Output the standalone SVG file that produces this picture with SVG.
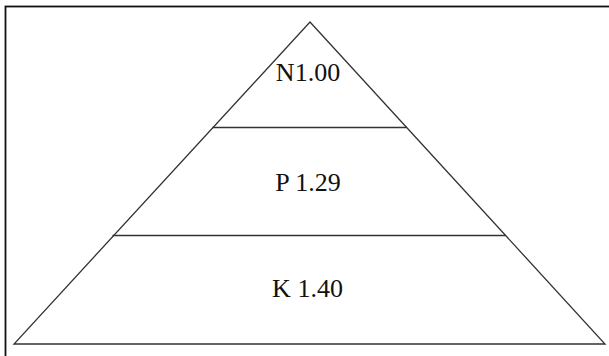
<svg xmlns="http://www.w3.org/2000/svg" width="609" height="356" viewBox="0 0 609 356">
<style>
.ln{stroke:#333;stroke-width:1.3;fill:none}
.lbl{font-family:"Liberation Serif","Times New Roman",serif;font-size:26px;fill:#111;text-anchor:middle}
</style>
<rect x="0" y="0" width="609" height="356" fill="#fff"/>
<rect x="5.5" y="6.5" width="612" height="360" fill="none" stroke="#111" stroke-width="1.8"/>
<g id="connectors">
<polygon class="ln" points="310,22 605,344 14,344"/>
<line class="ln" x1="212.5" y1="127.5" x2="406.5" y2="127.5"/>
<line class="ln" x1="112.5" y1="235.5" x2="505.5" y2="235.5"/>
</g>
<g id="n"><text class="lbl" x="308" y="81">N1.00</text></g>
<g id="p"><text class="lbl" x="308" y="191">P 1.29</text></g>
<g id="k"><text class="lbl" x="307.5" y="297">K 1.40</text></g>
</svg>
